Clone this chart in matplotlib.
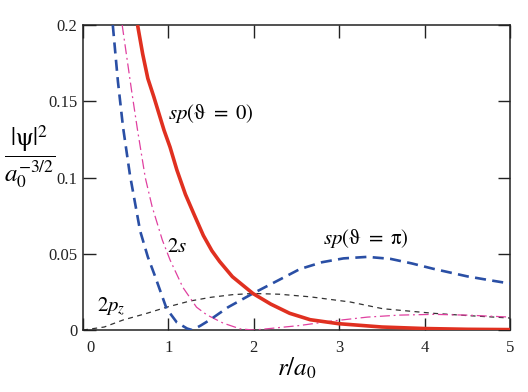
import matplotlib
matplotlib.use("Agg")
import matplotlib.pyplot as plt
import matplotlib.transforms as mtransforms

plt.rcParams.update({
    "font.family": ["Liberation Serif", "DejaVu Serif"],
    "mathtext.fontset": "stix",
    "font.size": 12,
})

# values (r / a0, |psi|^2)
sp0_r = [0.64, 0.70, 0.76, 0.83, 0.89, 0.95, 1.02, 1.10, 1.20, 1.30, 1.41, 1.51,
         1.60, 1.75, 1.99, 2.20, 2.42, 2.66, 2.99, 3.50, 4.00, 4.50, 5.00]
sp0_y = [0.200, 0.181, 0.165, 0.153, 0.142, 0.131, 0.120, 0.105, 0.089, 0.076, 0.062,
         0.052, 0.045, 0.035, 0.024, 0.017, 0.011, 0.0068, 0.0042, 0.002, 0.001,
         0.0005, 0.0003]

sppi_r = [0.35, 0.41, 0.47, 0.55, 0.67, 0.76, 0.84, 0.98, 1.10, 1.22, 1.28, 1.38,
          1.49, 1.70, 1.99, 2.30, 2.54, 2.80, 3.05, 3.33, 3.60, 3.85, 4.10, 4.30,
          4.50, 4.75, 5.00]
sppi_y = [0.200, 0.163, 0.133, 0.102, 0.065, 0.048, 0.036, 0.014, 0.005, 0.001, 0.0,
          0.003, 0.0068, 0.015, 0.024, 0.033, 0.040, 0.0445, 0.047, 0.0480, 0.0467,
          0.0437, 0.0402, 0.0377, 0.0352, 0.0328, 0.0305]

s2_r = [0.46, 0.57, 0.64, 0.73, 0.81, 0.93, 1.02, 1.17, 1.33, 1.45, 1.64, 1.84,
        2.00, 2.15, 2.54, 2.90, 3.33, 3.70, 4.10, 4.50, 5.00]
s2_y = [0.200, 0.157, 0.131, 0.100, 0.081, 0.059, 0.046, 0.028, 0.015, 0.010,
        0.0046, 0.0008, 0.0, 0.0008, 0.003, 0.0058, 0.0085, 0.0098, 0.0103, 0.0098,
        0.0085]

p2z_r = [0.0, 0.25, 0.47, 0.75, 0.98, 1.25, 1.50, 1.75, 1.99, 2.30, 2.66, 3.13,
         3.51, 4.10, 4.50, 5.00]
p2z_y = [0.0, 0.002, 0.0066, 0.011, 0.0150, 0.0190, 0.0215, 0.0232, 0.0240, 0.0235,
         0.0218, 0.0184, 0.0140, 0.0110, 0.0095, 0.0079]

x_ticks = [0, 1, 2, 3, 4, 5]
y_ticks = [0, 0.05, 0.1, 0.15, 0.2]
y_tick_labels = ["0", "0.05", "0.1", "0.15", "0.2"]

fig = plt.figure(figsize=(5.28, 3.92), dpi=100)
ax = fig.add_axes([0.157, 0.158, 0.809, 0.778])

ax.plot(p2z_r, p2z_y, color="#333333", lw=0.9, dashes=(4, 3.5), zorder=2)
ax.plot(s2_r, s2_y, color="#e040a0", lw=0.9, dashes=(8, 3, 1.5, 3), zorder=3)
ax.plot(sppi_r, sppi_y, color="#2a4fa5", lw=1.9, dashes=(4.2, 2.4), zorder=4)
ax.plot(sp0_r, sp0_y, color="#e03020", lw=2.6, solid_capstyle="butt",
        solid_joinstyle="round", zorder=5)

ax.set_xlim(0, 5)
ax.set_ylim(0, 0.2)
ax.set_xticks(x_ticks)
ax.set_yticks(y_ticks)
ax.set_yticklabels(y_tick_labels)
ax.tick_params(direction="in", length=9, width=1, top=True, right=True,
               labelsize=12, colors="#222222")
ax.tick_params(axis="x", pad=7)
ax.tick_params(axis="y", pad=4)
for sp in ax.spines.values():
    sp.set_linewidth(1.1)
    sp.set_color("#222222")

# the x "0" label sits a little right of the axis corner
lbl0 = ax.get_xticklabels()[0]
lbl0.set_transform(lbl0.get_transform() +
                   mtransforms.ScaledTranslation(8 / 100, 0, fig.dpi_scale_trans))

ax.text(1.0, 0.142, r"$sp(\mathrm{\vartheta}\ =\ 0)$", fontsize=15, ha="left", va="center")
ax.text(2.81, 0.060, r"$sp(\mathrm{\vartheta}\ =\ \mathrm{\pi})$", fontsize=15,
        ha="left", va="center")
ax.text(0.98, 0.054, r"$2s$", fontsize=15, ha="left", va="center")
ax.text(0.16, 0.015, r"$2p_z$", fontsize=15, ha="left", va="center")

ax.set_xlabel(r"$r/a_0$", fontsize=18, labelpad=0)
fig.text(0.057, 0.60, r"$\dfrac{|\mathrm{\psi}|^2}{a_0^{-3/2}}$", fontsize=18,
         ha="center", va="center")

fig.savefig("out.png", dpi=100)
